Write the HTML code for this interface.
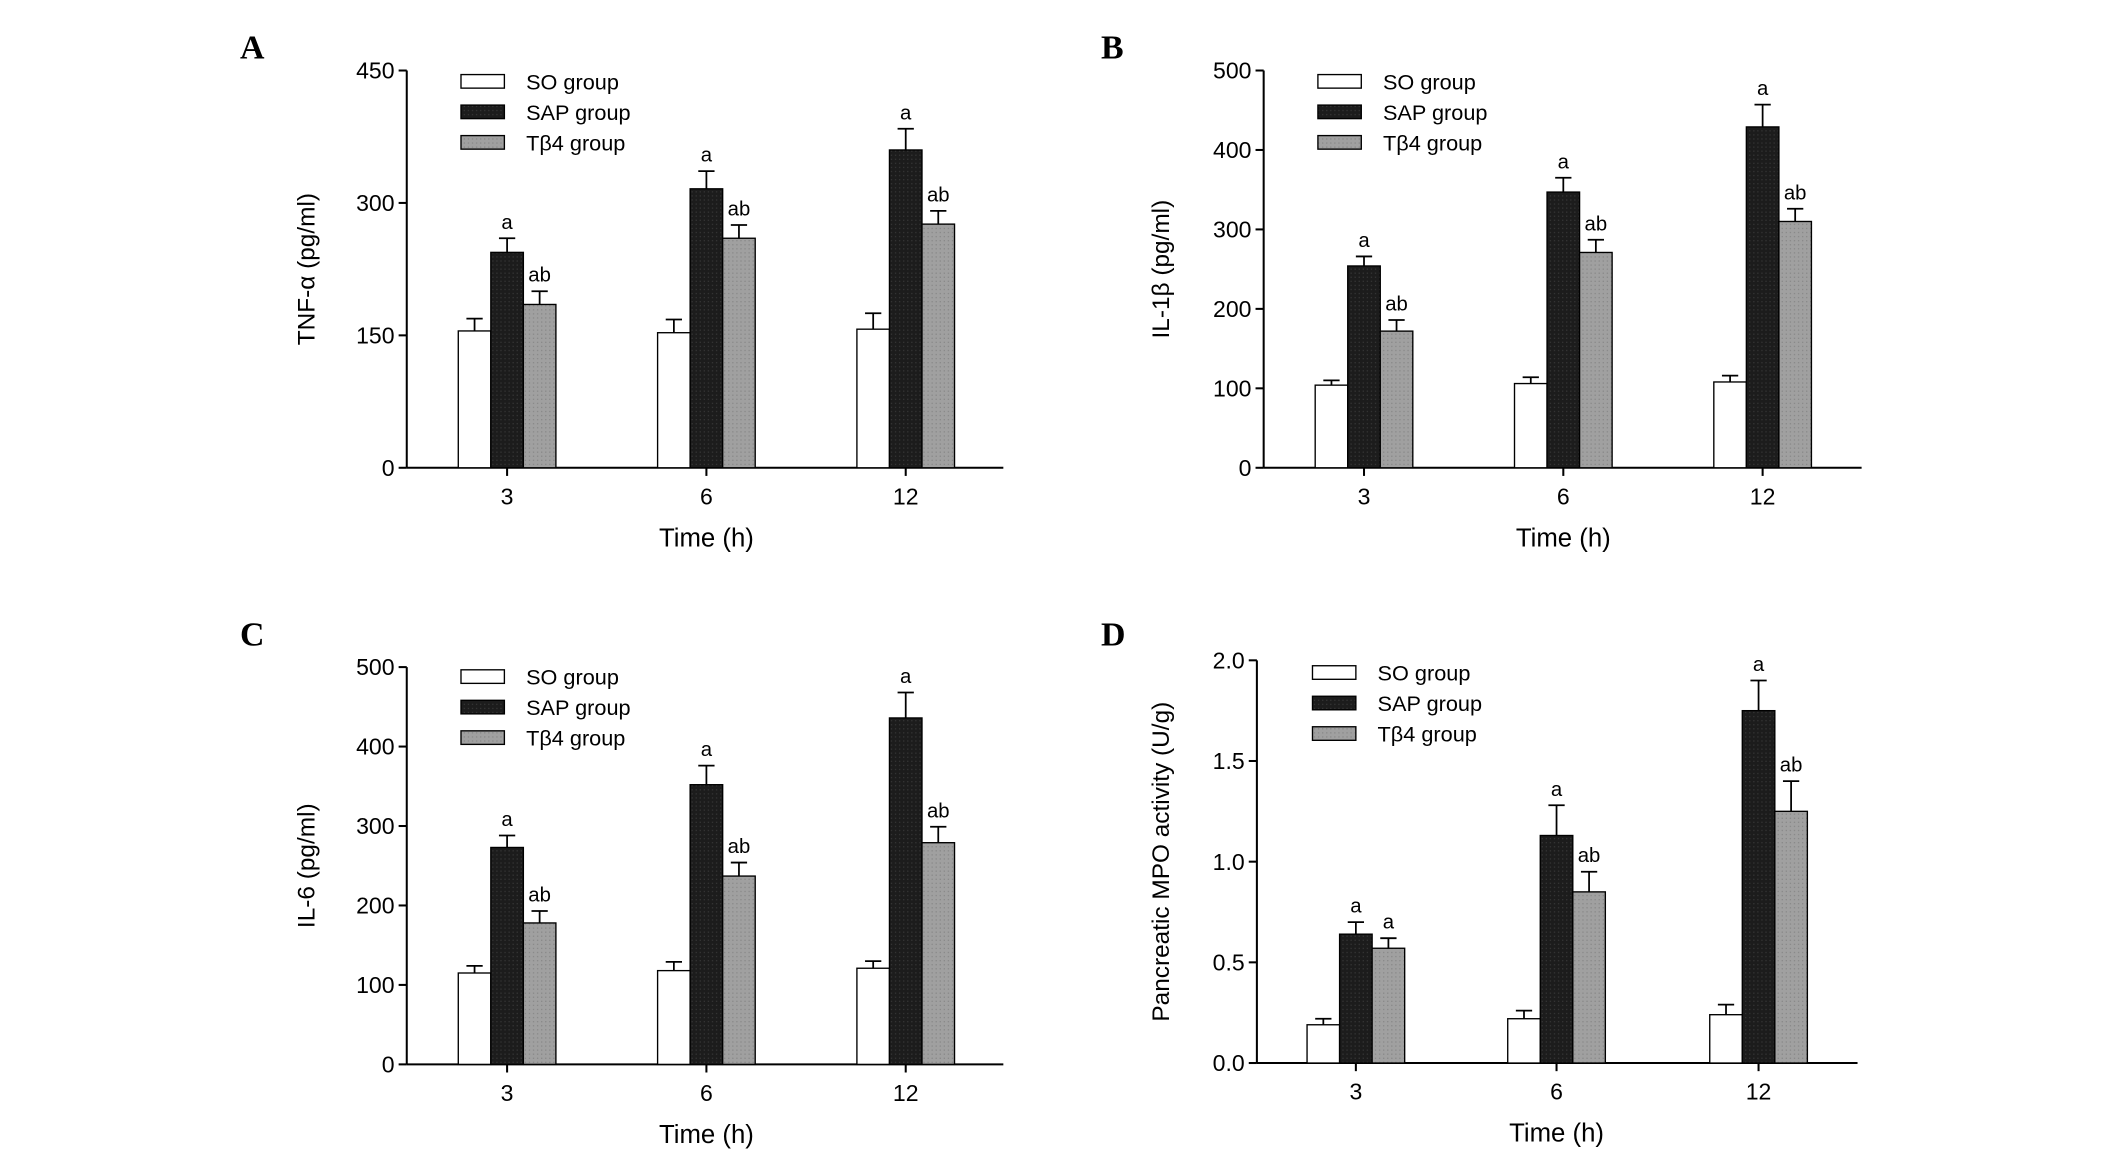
<!DOCTYPE html>
<html><head><meta charset="utf-8"><style>
html,body{margin:0;padding:0;background:#fff;}
svg{display:block;font-family:"Liberation Sans",Arial,sans-serif;}
</style></head><body>
<svg id="chart" width="2126" height="1162" viewBox="0 0 1568 857" preserveAspectRatio="none" xmlns="http://www.w3.org/2000/svg"></svg>
<script>
const categories = ["3","6","12"];
const seriesNames = ["SO group","SAP group","T\u03b24 group"];
const aSO=[155,153,157], aSAP=[244,316,360], aT=[185,260,276];
const aSOe=[14,15,18], aSAPe=[16,20,24], aTe=[15,15,15];
const aSig=[["","a","ab"],["","a","ab"],["","a","ab"]];
const bSO=[104,106,108], bSAP=[254,347,429], bT=[172,271,310];
const bSOe=[6,8,8], bSAPe=[12,18,28], bTe=[14,16,16];
const cSO=[115,118,121], cSAP=[273,352,436], cT=[178,237,279];
const cSOe=[9,11,9], cSAPe=[15,24,32], cTe=[15,17,20];
const dSO=[0.19,0.22,0.24], dSAP=[0.64,1.13,1.75], dT=[0.57,0.85,1.25];
const dSOe=[0.03,0.04,0.05], dSAPe=[0.06,0.15,0.15], dTe=[0.05,0.10,0.15];
const dSig=[["","a","a"],["","a","ab"],["","a","ab"]];
const aTicks=[0,150,300,450], bTicks=[0,100,200,300,400,500], cTicks=[0,100,200,300,400,500], dTicks=["0.0","0.5","1.0","1.5","2.0"];

const svg=document.getElementById('chart');
const NS="http://www.w3.org/2000/svg";
function mk(tag,attrs,parent){const e=document.createElementNS(NS,tag);for(const k in attrs)e.setAttribute(k,attrs[k]);(parent||svg).appendChild(e);return e;}
const defs=mk('defs',{});
const pat=mk('pattern',{id:'grayTex',width:3,height:3,patternUnits:'userSpaceOnUse'},defs);
mk('rect',{width:3,height:3,fill:'#a0a0a0'},pat);
mk('rect',{width:1,height:1,fill:'#8a8a8a'},pat);
const pat2=mk('pattern',{id:'blackTex',width:3,height:3,patternUnits:'userSpaceOnUse'},defs);
mk('rect',{width:3,height:3,fill:'#1c1c1c'},pat2);
mk('rect',{width:1,height:1,fill:'#333'},pat2);

function panel(p){
  const g=mk('g',{});
  
  
  const max=p.max;
  const y=v=>p.y0-(v/max)*(p.y0-p.yTop);
  const t=mk('text',{x:p.letterX,y:p.letterY,'font-family':'Liberation Serif,serif','font-weight':'bold','font-size':25},g);
  t.textContent=p.id;
  
  
  const ya=mk('line',{x1:p.x0,y1:p.yTop,x2:p.x0,y2:p.y0,stroke:'#000','stroke-width':1.5},g);
  
  
  const xa=mk('line',{x1:p.x0,y1:p.y0,x2:p.xEnd,y2:p.y0,stroke:'#000','stroke-width':1.5},g);
  
  
  p.ticks.forEach(tv=>{
    const v=parseFloat(tv);const yy=y(v);
    mk('line',{x1:p.x0-6,y1:yy,x2:p.x0,y2:yy,stroke:'#000','stroke-width':1.5},g);
    const tl=mk('text',{x:p.x0-9,y:yy+6,'text-anchor':'end','font-size':17},g);
    tl.textContent=tv;
    
    
  });
  const yl=mk('text',{transform:`translate(${p.yLabelX},${(p.yTop+p.y0)/2}) rotate(-90)`,'text-anchor':'middle','font-size':18},g);
  yl.textContent=p.ylabel;
  
  
  const xl=mk('text',{x:p.centers[1],y:p.y0+58,'text-anchor':'middle','font-size':19},g);
  xl.textContent='Time (h)';
  
  
  const fills=['#fff','url(#blackTex)','url(#grayTex)'];
  const bw=24;
  categories.forEach((c,i)=>{
    const cx=p.centers[i];
    mk('line',{x1:cx,y1:p.y0,x2:cx,y2:p.y0+6,stroke:'#000','stroke-width':1.5},g);
    const xt=mk('text',{x:cx,y:p.y0+27,'text-anchor':'middle','font-size':17},g);
    xt.textContent=c;
    
    
    p.series.forEach((s,j)=>{
      const v=s[i], e=p.errs[j][i];
      const x=cx-bw*1.5+j*bw;
      const top=y(v), et=y(v+e);
      mk('line',{x1:x+bw/2,y1:top,x2:x+bw/2,y2:et,stroke:'#000','stroke-width':1.3},g);
      mk('line',{x1:x+bw/2-6,y1:et,x2:x+bw/2+6,y2:et,stroke:'#000','stroke-width':1.3},g);
      const r=mk('rect',{x:x,y:top,width:bw,height:p.y0-top,fill:fills[j],stroke:'#000','stroke-width':1},g);
      
      
      const sg=p.sig[i][j];
      if(sg){const st=mk('text',{x:x+bw/2,y:et-7,'text-anchor':'middle','font-size':15},g);st.textContent=sg;
        
        }
    });
  });
  seriesNames.forEach((n,j)=>{
    const ly=p.legY+j*22.5;
    const lg=mk('g',{},g);
    
    
    mk('rect',{x:p.legX,y:ly-5,width:32,height:10,fill:fills[j],stroke:'#000','stroke-width':1},lg);
    const lt=mk('text',{x:p.legX+48,y:ly+6,'font-size':16},lg);
    lt.textContent=n;
  });
}
const sig=[["","a","ab"],["","a","ab"],["","a","ab"]];
panel({id:'A',letterX:177,letterY:43,x0:300,xEnd:740,y0:345,yTop:52,max:450,ticks:aTicks,ylabel:'TNF-\u03b1 (pg/ml)',yLabelX:232,
  centers:[374,521,668],series:[aSO,aSAP,aT],errs:[aSOe,aSAPe,aTe],sig:aSig,legX:340,legY:60});
panel({id:'B',letterX:812,letterY:43,x0:932,xEnd:1373,y0:345,yTop:52,max:500,ticks:bTicks,ylabel:'IL-1\u03b2 (pg/ml)',yLabelX:862,
  centers:[1006,1153,1300],series:[bSO,bSAP,bT],errs:[bSOe,bSAPe,bTe],sig:sig,legX:972,legY:60});
panel({id:'C',letterX:177,letterY:476,x0:300,xEnd:740,y0:785,yTop:492,max:500,ticks:cTicks,ylabel:'IL-6 (pg/ml)',yLabelX:232,
  centers:[374,521,668],series:[cSO,cSAP,cT],errs:[cSOe,cSAPe,cTe],sig:sig,legX:340,legY:499});
panel({id:'D',letterX:812,letterY:476,x0:927,xEnd:1370,y0:784,yTop:487,max:2.0,ticks:dTicks,ylabel:'Pancreatic MPO activity (U/g)',yLabelX:862,
  centers:[1000,1148,1297],series:[dSO,dSAP,dT],errs:[dSOe,dSAPe,dTe],sig:dSig,legX:968,legY:496});
</script>
</body></html>
